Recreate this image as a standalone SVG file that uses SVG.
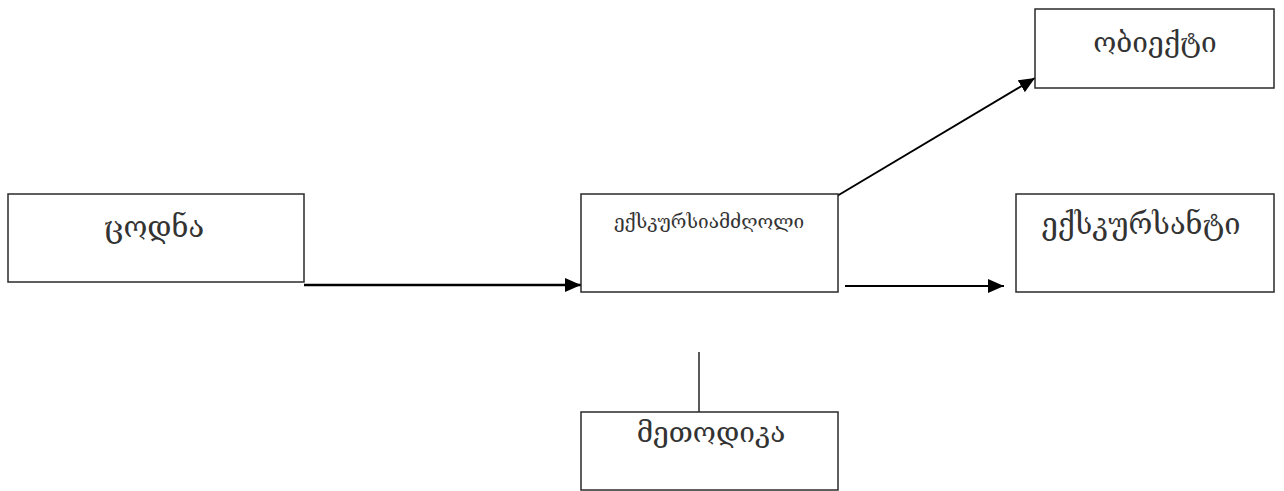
<svg xmlns="http://www.w3.org/2000/svg" width="1284" height="491" viewBox="0 0 1284 491">
<defs>
<style>
.box{fill:#fff;stroke:#2a2a2a;stroke-width:1.5}
.t{font-family:"DejaVu Serif","DejaVu Sans",serif;fill:#333;text-anchor:middle;font-weight:normal}
.c{stroke:#000;fill:none}
</style>
<marker id="ah2" markerWidth="16" markerHeight="14" refX="16" refY="7" orient="auto" markerUnits="userSpaceOnUse" viewBox="0 0 16 14">
<path d="M0,0 L16,7 L0,14 Z" fill="#000"/>
</marker>
</defs>
<rect width="1284" height="491" fill="#fff"/>
<g id="connectors">
<path class="c" d="M304,285 L581,285" stroke-width="2.5" marker-end="url(#ah2)"/>
<path class="c" d="M837,196 L1035,78" stroke-width="2" marker-end="url(#ah2)"/>
<path class="c" d="M845,286 L1004,286" stroke-width="1.8" marker-end="url(#ah2)"/>
<path class="c" d="M699,352 L699,412" stroke-width="1.3"/>
</g>
<g id="node-codna">
<rect class="box" x="8" y="194" width="296" height="88"/>
<text class="t" x="154" y="237" font-size="29">ცოდნა</text>
</g>
<g id="node-gidi">
<rect class="box" x="581" y="194" width="257" height="98"/>
<text class="t" x="709" y="228" font-size="19">ექსკურსიამძღოლი</text>
</g>
<g id="node-obieqti">
<rect class="box" x="1035" y="9" width="239" height="79"/>
<text class="t" x="1155" y="52" font-size="28">ობიექტი</text>
</g>
<g id="node-ekskursanti">
<rect class="box" x="1016" y="194" width="258" height="98"/>
<text class="t" x="1141" y="234" font-size="29">ექსკურსანტი</text>
</g>
<g id="node-metodika">
<rect class="box" x="581" y="412" width="257" height="78"/>
<text class="t" x="711" y="442" font-size="28">მეთოდიკა</text>
</g>
</svg>
